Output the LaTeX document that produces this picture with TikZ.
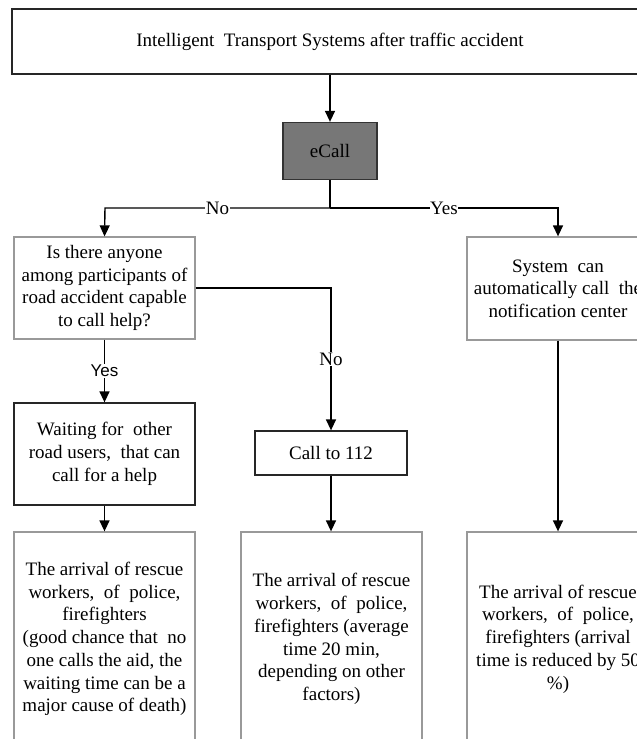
\documentclass[tikz,border=0pt]{standalone}
\usepackage{fontspec}
\setmainfont{Liberation Serif}
\newfontfamily\arialfont{Liberation Sans}
\usetikzlibrary{arrows.meta}
\definecolor{boxgray}{HTML}{999999}
\definecolor{efill}{HTML}{777777}
\tikzset{
  base/.style={rectangle, inner sep=0pt, align=center, line width=1.3pt,
    font=\fontsize{19}{22.7}\selectfont},
  blackbox/.style={base, draw=black!85},
  graybox/.style={base, draw=boxgray},
  ebox/.style={base, draw=black!80, fill=efill},
  conn/.style={line width=1.4pt, black},
  arr/.style={conn, -{Triangle[length=11pt,width=10pt]}},
  lbl/.style={fill=white, inner sep=0.5pt, font=\fontsize{19}{22.7}\selectfont},
  slbl/.style={fill=white, inner sep=1pt, font=\arialfont\fontsize{17}{20}\selectfont},
}
\begin{document}
\begin{tikzpicture}[x=1pt,y=-1pt]
\useasboundingbox (0,0) rectangle (637,739);
\clip (0,0) rectangle (637,739);
\fill[white] (0,0) rectangle (637,739);

\node[blackbox, minimum width=636pt, minimum height=65pt] (top) at (330,41.5)
  {Intelligent\ \ Transport Systems after traffic accident};
\node[ebox, minimum width=94pt, minimum height=57pt] (ecall) at (330,151) {eCall};

\node[graybox, minimum width=181pt, minimum height=102pt] (q) at (104.5,288)
  {Is there anyone\\among participants of\\road accident capable\\to call help?};
\node[graybox, minimum width=182pt, minimum height=103pt] (sys) at (558,288.5)
  {System\ \ can\\automatically call\ \ the\\notification center};

\node[blackbox, minimum width=181pt, minimum height=102pt] (wait) at (104.5,454)
  {Waiting for\ \ other\\road users,\ \ that can\\call for a help};
\node[blackbox, minimum width=152pt, minimum height=44pt] (call) at (331,453)
  {Call to 112};

\node[graybox, minimum width=181pt, minimum height=214pt] (b1) at (104.5,639)
  {The arrival of rescue\\workers,\ \ of\ \ police,\\firefighters\\(good chance that\ \ no\\one calls the aid, the\\waiting time can be a\\major cause of death)};
\node[graybox, minimum width=181pt, minimum height=214pt] (b2) at (331.5,639)
  {The arrival of rescue\\workers,\ \ of\ \ police,\\firefighters (average\\time 20 min,\\depending on other\\factors)};
\node[graybox, minimum width=182pt, minimum height=214pt] (b3) at (558,639)
  {The arrival of rescue\\workers,\ \ of\ \ police,\\firefighters (arrival\\time is reduced by 50\\\%)};

\coordinate (split) at (330,208);

\draw[arr] (top.south) -- (ecall.north);
\draw[conn] (ecall.south) -- (split);
\draw[arr] (split) -- (105,208) node[lbl, pos=0.5] (no1) {No} -- (q.north);
\draw[arr] (split) -- (558,208) node[lbl, pos=0.5] (yes1) {Yes} -- (sys.north);

\draw[arr] (q.east |- 0,288) -- (331,288) -- (call.north) node[lbl, pos=0.5] (no2) {No};
\draw[arr] (q.south) -- (wait.north) node[slbl, midway] (yes2) {Yes};

\draw[arr] (wait.south) -- (b1.north);
\draw[arr] (call.south) -- (call.south |- b2.north);
\draw[arr] (sys.south) -- (b3.north);
\end{tikzpicture}
\end{document}
